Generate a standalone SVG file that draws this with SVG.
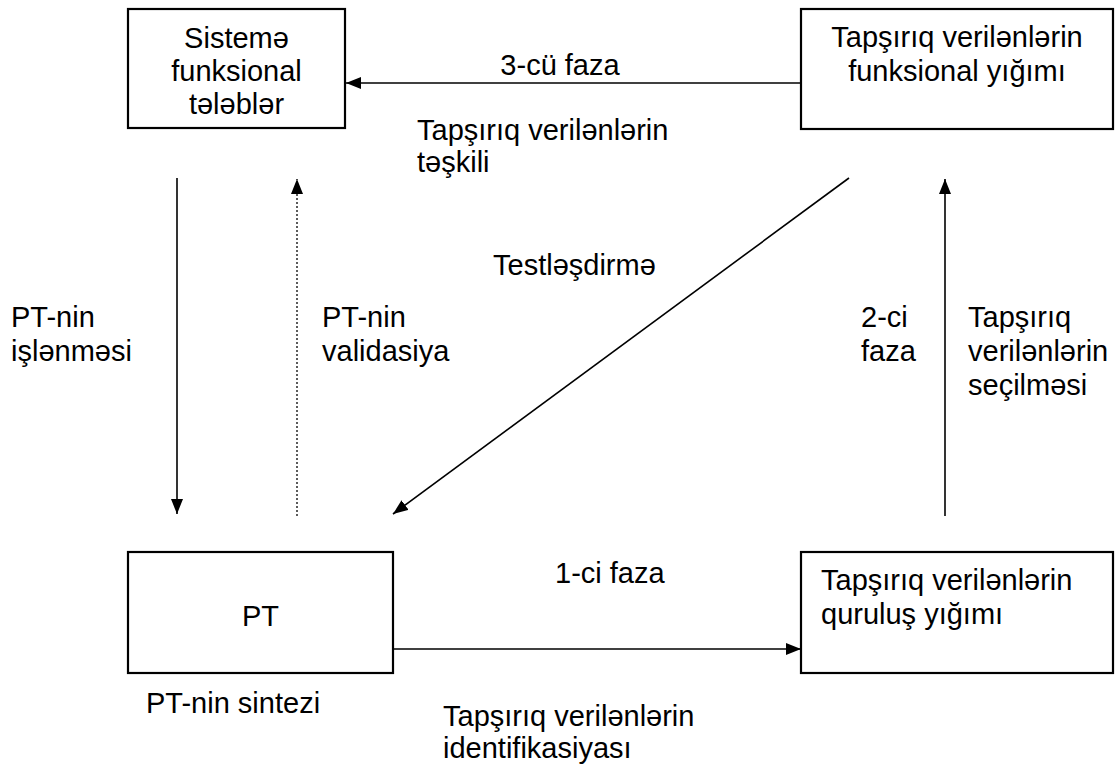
<svg xmlns="http://www.w3.org/2000/svg" width="1120" height="769" viewBox="0 0 1120 769">
<style>
.box{fill:#fff;stroke:#000;stroke-width:2.2}
.t{font-family:"Liberation Sans",Arial,sans-serif;font-size:29px;fill:#000}
.c{text-anchor:middle}
.ln{stroke:#000;stroke-width:1.6;fill:none}
.dot{stroke:#333;stroke-width:1.6;fill:none;stroke-dasharray:2 2}
</style>
<defs>
<marker id="ah" markerUnits="userSpaceOnUse" markerWidth="15" markerHeight="12" refX="15" refY="6" orient="auto">
<path d="M0,0 L15,6 L0,12 z" fill="#000"/>
</marker>
</defs>
<rect width="1120" height="769" fill="#fff"/>
<g id="connectors">
<line class="ln" x1="801" y1="83" x2="346" y2="83" marker-end="url(#ah)"/>
<line class="ln" x1="177" y1="178" x2="177" y2="514" marker-end="url(#ah)"/>
<line class="dot" x1="297" y1="516" x2="297" y2="179" marker-end="url(#ah)"/>
<line class="ln" x1="849" y1="178" x2="393" y2="514" marker-end="url(#ah)"/>
<line class="ln" x1="945" y1="516" x2="945" y2="179" marker-end="url(#ah)"/>
<line class="ln" x1="393" y1="649" x2="801" y2="649" marker-end="url(#ah)"/>
</g>
<g id="n-sistem">
<rect class="box" x="128" y="9" width="217" height="119"/>
<text class="t c" x="236.5" y="48">Sistemə</text>
<text class="t c" x="236.5" y="81">funksional</text>
<text class="t c" x="236.5" y="114">tələblər</text>
</g>
<g id="n-funk">
<rect class="box" x="801" y="9" width="312" height="120"/>
<text class="t c" x="957" y="47">Tapşırıq verilənlərin</text>
<text class="t c" x="957" y="81">funksional yığımı</text>
</g>
<g id="n-pt">
<rect class="box" x="128" y="552" width="265" height="121"/>
<text class="t c" x="260.5" y="626">PT</text>
</g>
<g id="n-qurulus">
<rect class="box" x="801" y="552" width="312" height="121"/>
<text class="t" x="821" y="590">Tapşırıq verilənlərin</text>
<text class="t" x="821" y="624">quruluş yığımı</text>
</g>
<g id="labels">
<text class="t c" x="560" y="75">3-cü faza</text>
<text class="t" x="417" y="140">Tapşırıq verilənlərin</text>
<text class="t" x="417" y="172">təşkili</text>
<text class="t" x="493" y="275">Testləşdirmə</text>
<text class="t" x="11" y="327">PT-nin</text>
<text class="t" x="11" y="361">işlənməsi</text>
<text class="t" x="322" y="327">PT-nin</text>
<text class="t" x="322" y="361">validasiya</text>
<text class="t" x="861" y="327">2-ci</text>
<text class="t" x="861" y="361">faza</text>
<text class="t" x="968" y="327">Tapşırıq</text>
<text class="t" x="968" y="361">verilənlərin</text>
<text class="t" x="968" y="395">seçilməsi</text>
<text class="t" x="555" y="583">1-ci faza</text>
<text class="t" x="146" y="713">PT-nin sintezi</text>
<text class="t" x="443" y="726">Tapşırıq verilənlərin</text>
<text class="t" x="443" y="758">identifikasiyası</text>
</g>
</svg>
